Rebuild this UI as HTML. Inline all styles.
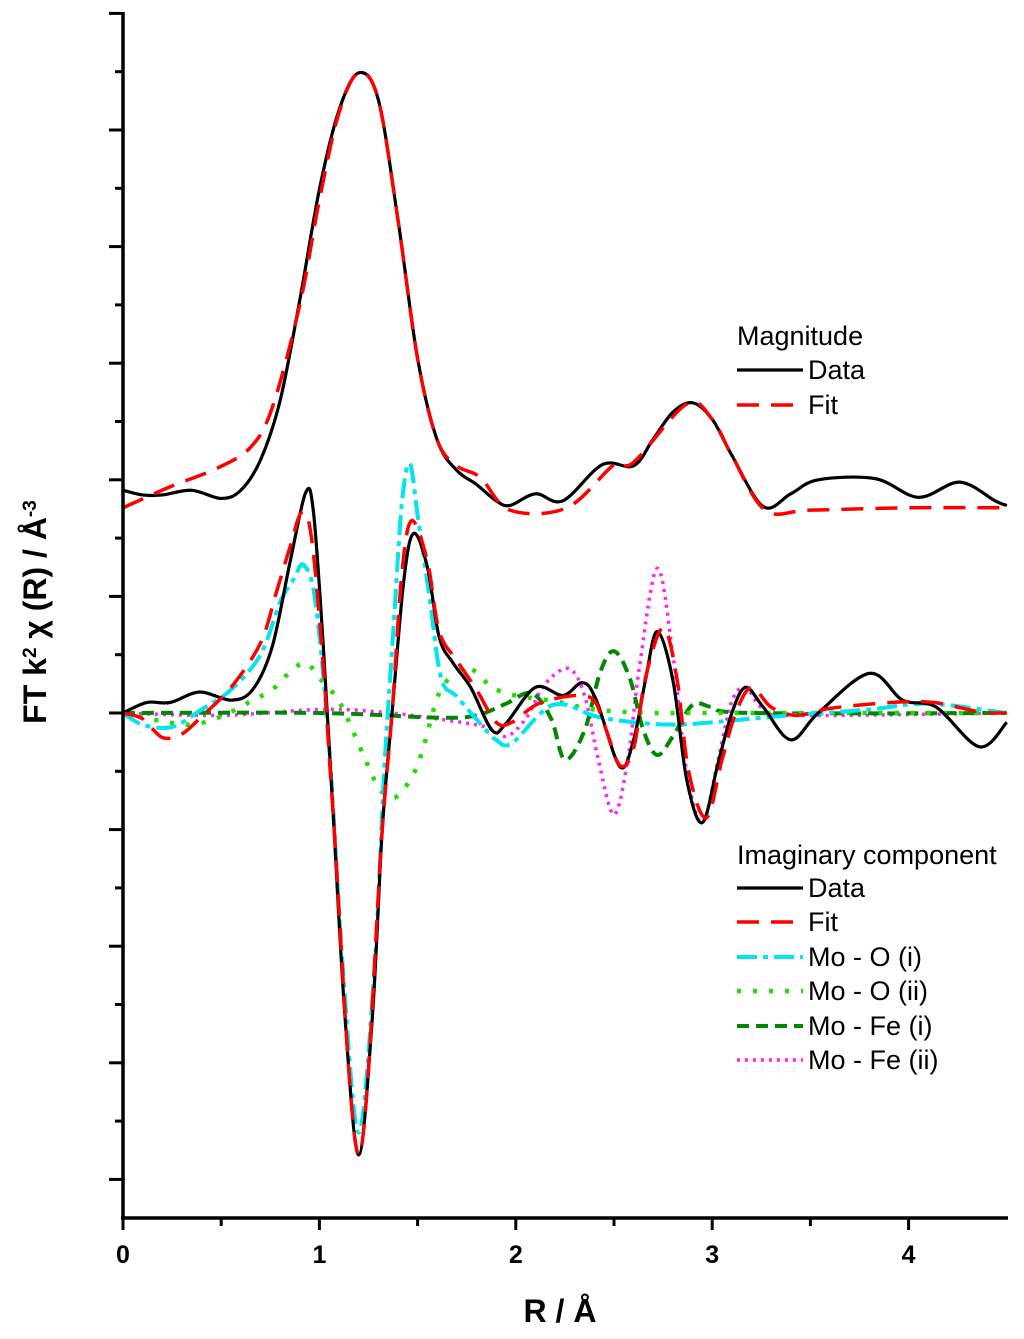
<!DOCTYPE html>
<html><head><meta charset="utf-8"><style>
body{margin:0;background:#fff}
svg{display:block}
text{font-family:"Liberation Sans",sans-serif}
</style></head><body>
<svg id="chart" width="1024" height="1339" viewBox="0 0 1024 1339" xmlns="http://www.w3.org/2000/svg">
<g id="plot"></g>
<g id="axes"></g>
<text x="560" y="1322" text-anchor="middle" font-size="32" font-weight="bold">R / Å</text>
<text transform="translate(46,612) rotate(-90)" text-anchor="middle" font-size="32" font-weight="bold">FT k<tspan baseline-shift="super" font-size="19">2</tspan> χ (R) / Å<tspan baseline-shift="super" font-size="19">-3</tspan></text>
<g id="legend"></g>
</svg>
<script>
// x axis categories/ticks
const xTicks=[0,1,2,3,4];
// Magnitude data
const magDataR=[0,0.1,0.2,0.35,0.5,0.6,0.7,0.8,0.9,1.0,1.1,1.2,1.3,1.4,1.5,1.6,1.7,1.8,1.9,1.97,2.1,2.24,2.44,2.6,2.7,2.8,2.9,3.0,3.1,3.26,3.4,3.54,3.83,4.05,4.26,4.44,4.5];
const magDataV=[1.91,1.87,1.87,1.91,1.84,1.91,2.17,2.68,3.54,4.49,5.17,5.49,5.26,4.23,3.04,2.34,2.08,1.96,1.82,1.78,1.88,1.82,2.13,2.12,2.35,2.58,2.66,2.52,2.21,1.77,1.88,2.0,2.01,1.85,1.98,1.82,1.78];
const magFitR=[0,0.24,0.48,0.65,0.76,0.9,1.0,1.1,1.2,1.3,1.4,1.5,1.6,1.7,1.82,1.97,2.26,2.5,2.6,2.87,3.0,3.1,3.27,3.5,4.0,4.5];
const magFitV=[1.76,1.94,2.10,2.28,2.62,3.5,4.4,5.15,5.49,5.26,4.23,3.04,2.34,2.12,2.02,1.74,1.76,2.13,2.15,2.65,2.52,2.21,1.74,1.74,1.76,1.76];
// Imaginary component
const imDataR=[0,0.12,0.24,0.39,0.55,0.66,0.76,0.85,0.93,0.97,1.02,1.07,1.13,1.2,1.27,1.32,1.37,1.43,1.48,1.55,1.61,1.68,1.77,1.88,1.95,2.1,2.24,2.34,2.41,2.53,2.6,2.66,2.72,2.8,2.87,2.95,3.03,3.1,3.17,3.26,3.4,3.54,3.8,3.97,4.14,4.36,4.5];
const imDataV=[0,0.09,0.09,0.18,0.11,0.2,0.57,1.29,1.89,1.72,0.57,-0.86,-2.6,-3.79,-2.6,-1.0,0,1.14,1.54,1.25,0.65,0.43,0.22,-0.15,-0.09,0.22,0.15,0.26,0.11,-0.46,-0.23,0.28,0.7,0.28,-0.57,-0.94,-0.43,0,0.22,0.05,-0.23,0,0.34,0.11,0.05,-0.29,-0.08];
const imFitR=[0,0.1,0.2,0.3,0.4,0.55,0.7,0.78,0.85,0.91,0.96,1.02,1.07,1.2,1.32,1.37,1.42,1.47,1.55,1.61,1.7,1.8,1.9,1.98,2.13,2.37,2.45,2.53,2.6,2.66,2.75,2.82,2.88,2.97,3.05,3.12,3.2,3.3,3.43,3.6,3.91,4.13,4.36,4.5];
const imFitV=[0,-0.05,-0.21,-0.18,-0.03,0.22,0.6,1.03,1.42,1.72,1.5,0.4,-0.86,-3.79,-1.0,0,1.2,1.65,1.3,0.7,0.45,0.2,-0.08,-0.08,0.09,0.14,-0.1,-0.45,-0.3,0.3,0.73,0.3,-0.5,-0.9,-0.4,0,0.22,0.05,-0.02,0.04,0.09,0.09,0.01,0];
const moO1R=[0,0.1,0.25,0.4,0.55,0.7,0.8,0.87,0.92,0.98,1.05,1.12,1.2,1.28,1.33,1.38,1.42,1.46,1.5,1.56,1.62,1.7,1.85,1.9,1.98,2.19,2.41,2.6,2.8,3.0,3.13,3.4,3.8,4.1,4.5];
const moO1V=[0,-0.1,-0.12,0.03,0.2,0.5,0.95,1.15,1.27,0.95,-0.3,-2.2,-3.6,-2.2,-0.5,0.8,1.8,2.14,1.7,1.0,0.3,0.14,-0.15,-0.23,-0.26,0.07,-0.03,-0.08,-0.1,-0.08,-0.06,-0.02,0.03,0.08,0];
const moO2R=[0,0.2,0.35,0.5,0.65,0.76,0.85,0.93,1.0,1.1,1.19,1.25,1.31,1.39,1.48,1.53,1.61,1.7,1.78,1.88,2.0,2.2,2.4,2.7,3.0,4.5];
const moO2V=[0,-0.07,-0.1,-0.03,0.1,0.2,0.35,0.43,0.3,0.1,-0.23,-0.46,-0.66,-0.72,-0.52,-0.29,0.17,0.35,0.37,0.22,0.15,0.1,0.03,0,0,0];
const moFe1R=[0,1.0,1.6,1.8,1.95,2.08,2.18,2.25,2.35,2.43,2.5,2.58,2.65,2.72,2.8,2.9,3.0,3.2,4.5];
const moFe1V=[0,0,-0.04,-0.02,0.08,0.17,-0.05,-0.4,-0.15,0.35,0.53,0.3,-0.15,-0.36,-0.2,0.07,0.05,0,0];
const moFe2R=[0,0.5,1.0,1.3,1.6,1.85,1.95,2.05,2.15,2.27,2.35,2.42,2.5,2.57,2.63,2.72,2.8,2.87,2.95,3.03,3.1,3.17,3.25,3.4,4.5];
const moFe2V=[0,-0.02,0.03,0.01,-0.05,-0.12,-0.2,-0.05,0.25,0.38,0.15,-0.4,-0.87,-0.4,0.4,1.24,0.5,-0.5,-0.94,-0.4,0.1,0.22,0.05,-0.02,0];

const NS="http://www.w3.org/2000/svg";
const X0=123,XS=196.4,Y0=713,YS=116.6;
const xs=r=>X0+r*XS, ys=v=>Y0-v*YS;
function mk(tag,attrs,parent){const e=document.createElementNS(NS,tag);for(const k in attrs)e.setAttribute(k,attrs[k]);parent.appendChild(e);return e;}
function pathD(R,V){
  const P=R.map((r,i)=>[xs(r),ys(V[i])]);
  let d=`M${P[0][0]},${P[0][1]}`;
  for(let i=0;i<P.length-1;i++){
    const p0=P[Math.max(i-1,0)],p1=P[i],p2=P[i+1],p3=P[Math.min(i+2,P.length-1)];
    const c1=[p1[0]+(p2[0]-p0[0])/6,p1[1]+(p2[1]-p0[1])/6];
    const c2=[p2[0]-(p3[0]-p1[0])/6,p2[1]-(p3[1]-p1[1])/6];
    d+=`C${c1[0]},${c1[1]} ${c2[0]},${c2[1]} ${p2[0]},${p2[1]}`;
  }
  return d;
}
const plot=document.getElementById('plot');
const styles={
  black:{stroke:'#000','stroke-width':3.2},
  fit:{stroke:'#f00','stroke-width':3.5,'stroke-dasharray':'22 12'},
  cyan:{stroke:'#00e5ee','stroke-width':4,'stroke-dasharray':'20 6 5 6'},
  green:{stroke:'#22dd00','stroke-width':4.5,'stroke-dasharray':'4 12','stroke-linecap':'butt'},
  dgreen:{stroke:'#008800','stroke-width':4,'stroke-dasharray':'12 7'},
  mag:{stroke:'#ff22ff','stroke-width':3.5,'stroke-dasharray':'3 5'}
};
const series=[
  ['mo-fe-ii-line',moFe2R,moFe2V,'mag'],
  ['mo-fe-i-line',moFe1R,moFe1V,'dgreen'],
  ['mo-o-ii-line',moO2R,moO2V,'green'],
  ['mo-o-i-line',moO1R,moO1V,'cyan'],
  ['imag-data-line',imDataR,imDataV,'black'],
  ['imag-fit-line',imFitR,imFitV,'fit'],
  ['magnitude-data-line',magDataR,magDataV,'black'],
  ['magnitude-fit-line',magFitR,magFitV,'fit']
];
for(const [name,R,V,st] of series){
  const p=mk('path',Object.assign({d:pathD(R,V),fill:'none'},styles[st]),plot);
  
  
}
// axes
const axes=document.getElementById('axes');
const yl=mk('line',{x1:X0,y1:12,x2:X0,y2:1219,stroke:'#000','stroke-width':3.5},axes);


const xl=mk('line',{x1:X0-2,y1:1218,x2:1008,y2:1218,stroke:'#000','stroke-width':3.5},axes);


for(let k=-8;k<=12;k++){
  const y=Y0-k*58.3;
  const len=(k%2===0)?14:8;
  const t=mk('line',{x1:X0-len,y1:y,x2:X0,y2:y,stroke:'#000','stroke-width':3},axes);
  
  
}
for(let r=0.5;r<4.5;r+=1){
  const t=mk('line',{x1:xs(r),y1:1218,x2:xs(r),y2:1226,stroke:'#000','stroke-width':3},axes);
  
  
}
for(const v of xTicks){
  const t=mk('line',{x1:xs(v),y1:1218,x2:xs(v),y2:1230,stroke:'#000','stroke-width':3},axes);
  
  
  const tx=mk('text',{x:xs(v),y:1263,'text-anchor':'middle','font-size':25,'font-weight':'bold'},axes);
  tx.textContent=v;
  
  
}
// legend
const lg=document.getElementById('legend');
function title(txt,y,name){const t=mk('text',{x:737,y:y,'font-size':27},lg);t.textContent=txt;
  
  }
function entry(txt,y,st,name){
  const g=mk('g',{},lg);
  
  
  mk('line',Object.assign({x1:737,y1:y,x2:803,y2:y},styles[st]),g);
  const t=mk('text',{x:808,y:y+9,'font-size':27},g);t.textContent=txt;
}
title('Magnitude',345,'magnitude-legend-title');
entry('Data',370,'black','legend-magnitude-data');
entry('Fit',405,'fit','legend-magnitude-fit');
title('Imaginary component',864,'imaginary-legend-title');
entry('Data',888,'black','legend-imag-data');
entry('Fit',922,'fit','legend-imag-fit');
entry('Mo - O (i)',957,'cyan','legend-mo-o-i');
entry('Mo - O (ii)',991,'green','legend-mo-o-ii');
entry('Mo - Fe (i)',1026,'dgreen','legend-mo-fe-i');
entry('Mo - Fe (ii)',1060,'mag','legend-mo-fe-ii');
</script>
</body></html>
